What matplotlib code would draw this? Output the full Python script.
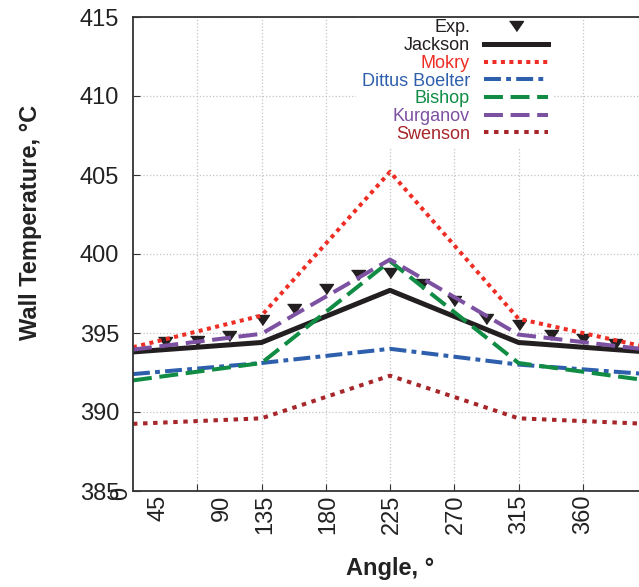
import matplotlib.pyplot as plt
from matplotlib.transforms import blended_transform_factory

plt.rcParams["font.family"] = ["Liberation Sans", "DejaVu Sans"]

# model curves (vertices)
angle = [45, 135, 225, 315, 405]
jackson = [393.8, 394.4, 397.7, 394.4, 393.8]
mokry = [394.1, 396.1, 405.2, 395.9, 394.1]
dittus = [392.4, 393.1, 394.0, 393.0, 392.4]
bishop = [392.0, 393.1, 399.55, 393.1, 392.0]
kurganov = [393.95, 394.95, 399.65, 394.9, 393.95]
swenson = [389.25, 389.6, 392.3, 389.6, 389.25]

# experiment
exp_angle = [67.5, 90, 112.5, 135, 157.5, 180, 202.5, 225, 247.5, 270,
             292.5, 315, 337.5, 360, 382.5]
exp_temp = [394.4, 394.5, 394.8, 395.8, 396.5, 397.8, 398.7, 398.8, 398.1,
            397.0, 395.9, 395.5, 394.9, 394.6, 394.3]

# axis labels as they sit in the original
xlab_text = ["45", "90", "135", "180", "225", "270", "315", "360"]
xlab_pos = [62.8, 107.4, 137.5, 182, 226.5, 271, 315.5, 360]
xgrid = [90, 135, 180, 225, 270, 315, 360]
yticks = [385, 390, 395, 400, 405, 410, 415]

fig = plt.figure(figsize=(6.39, 5.87), dpi=100)
ax = fig.add_axes([133 / 639, 1 - 491 / 587, (647 - 133) / 639, (491 - 17) / 587])

tri = [(-1, 0.72), (1, 0.72), (0, -0.72)]
ax.plot(exp_angle, exp_temp, ls="none", marker=tri, ms=10, color="#231f20",
        label="Exp.", zorder=2)
ax.plot(angle, jackson, color="#231f20", lw=3.6, label="Jackson")
ax.plot(angle, mokry, color="#ee2d24", lw=2.9, ls=(0, (1, 1.1)), label="Mokry")
ax.plot(angle, dittus, color="#2e5fac", lw=2.9, ls=(0, (4.2, 1.3, 1.2, 1.3)),
        label="Dittus Boelter")
ax.plot(angle, bishop, color="#108c44", lw=2.9, ls=(0, (4.7, 1.9)), label="Bishop")
ax.plot(angle, kurganov, color="#7d51a1", lw=2.9, ls=(0, (4.7, 1.9)), label="Kurganov")
ax.plot(angle, swenson, color="#a6262a", lw=2.9, ls=(0, (1.1, 1.4)), label="Swenson")

ax.set_xlim(45, 405)
ax.set_ylim(385, 415)

ax.xaxis.remove_overlapping_locs = False
ax.set_xticks(xgrid)
ax.tick_params(axis="x", which="major", labelbottom=False, direction="in", length=5,
               color="#333333")
ax.set_xticks(xlab_pos, labels=xlab_text, minor=True)
ax.tick_params(axis="x", which="minor", length=0, labelsize=17, pad=2.5,
               labelrotation=90, colors="#222222")
tr = blended_transform_factory(ax.transData, ax.transAxes)
ax.text(36.8, 0.008, "0", transform=tr, rotation=90, ha="center", va="top",
        fontsize=17, color="#222222", clip_on=False)

ax.set_yticks(yticks)
ax.tick_params(axis="y", direction="in", length=5, pad=10, labelsize=17,
               color="#333333", labelcolor="#222222")
ax.grid(True, which="major", ls=":", color="#c4c4c4", lw=0.9)

for s in ax.spines.values():
    s.set_color("#333333")
    s.set_linewidth(1.3)

ax.set_xlabel("Angle, °", fontsize=17, fontweight="bold", color="#222222")
ax.xaxis.set_label_coords(0.5, -0.139)
ax.set_ylabel("Wall Temperature, °C", fontsize=17, fontweight="bold", color="#222222")
ax.yaxis.set_label_coords(-0.177, 0.5675)

leg = ax.legend(loc="upper right", bbox_to_anchor=(553 / 639, 1 - 14 / 587),
                bbox_transform=fig.transFigure, markerfirst=False,
                labelcolor="linecolor", fontsize=13, handlelength=3.5,
                handletextpad=0.8, labelspacing=0.04, borderpad=0.3,
                numpoints=1, fancybox=False, edgecolor="none",
                facecolor="white", framealpha=1, borderaxespad=0)
leg.set_zorder(2.4)

plt.savefig("out.png", dpi=100)
